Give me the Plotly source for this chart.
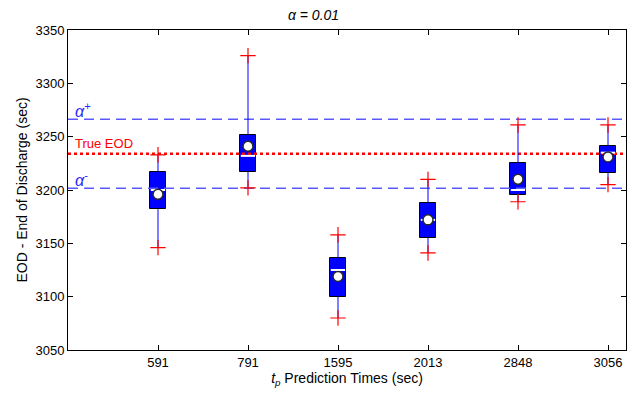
import plotly.graph_objects as go

# ---- data ----
pred_times = ["591", "791", "1595", "2013", "2848", "3056"]
positions = [1, 2, 3, 4, 5, 6]
q_min = [3146, 3202, 3080, 3141, 3189, 3205]
q1 = [3182, 3217, 3100, 3155, 3195, 3216]
median = [3200, 3232, 3125, 3172, 3200, 3235]
q3 = [3217, 3252, 3136, 3188, 3225, 3241]
q_max = [3233, 3326, 3158, 3210, 3261, 3261]
mean = [3196, 3241, 3119, 3172, 3210, 3231]
true_eod = 3234
alpha = 0.01
alpha_plus = true_eod * (1 + alpha)
alpha_minus = true_eod * (1 - alpha)
y_ticks = [3050, 3100, 3150, 3200, 3250, 3300, 3350]

box_w = 0.18
x_lo, x_hi = 0, 6.2
FONT = "Liberation Sans, Arial, sans-serif"

fig = go.Figure()

# reference lines
fig.add_trace(go.Scatter(x=[x_lo, x_hi], y=[alpha_plus] * 2, mode="lines",
                         line=dict(color="rgb(90,90,255)", width=1.5, dash="10px,6px"),
                         hoverinfo="skip", showlegend=False))
fig.add_trace(go.Scatter(x=[x_lo, x_hi], y=[alpha_minus] * 2, mode="lines",
                         line=dict(color="rgb(90,90,255)", width=1.5, dash="10px,6px"),
                         hoverinfo="skip", showlegend=False))
fig.add_trace(go.Scatter(x=[x_lo, x_hi], y=[true_eod] * 2, mode="lines",
                         line=dict(color="rgb(255,0,0)", width=2.5, dash="dot"),
                         hoverinfo="skip", showlegend=False))

# whiskers
wx, wy = [], []
for p, lo, a, b, hi in zip(positions, q_min, q1, q3, q_max):
    wx += [p, p, None, p, p, None]
    wy += [lo, a, None, b, hi, None]
fig.add_trace(go.Scatter(x=wx, y=wy, mode="lines",
                         line=dict(color="rgb(0,0,255)", width=1),
                         hoverinfo="skip", showlegend=False))

# boxes
fig.add_trace(go.Bar(x=positions, base=q1, y=[b - a for a, b in zip(q1, q3)],
                     width=box_w, marker=dict(color="rgb(0,0,255)",
                                              line=dict(color="black", width=1)),
                     showlegend=False))

# medians
mx, my = [], []
for p, m in zip(positions, median):
    mx += [p - box_w / 2 + 0.01, p + box_w / 2 - 0.01, None]
    my += [m, m, None]
fig.add_trace(go.Scatter(x=mx, y=my, mode="lines",
                         line=dict(color="white", width=2),
                         hoverinfo="skip", showlegend=False))

# extremes (red plus)
fig.add_trace(go.Scatter(x=positions + positions, y=q_min + q_max, mode="markers",
                         marker=dict(symbol="cross-thin", size=11,
                                     line=dict(color="rgb(255,0,0)", width=1.2)),
                         showlegend=False))

# means
fig.add_trace(go.Scatter(x=positions, y=mean, mode="markers",
                         marker=dict(symbol="circle", size=10, color="white",
                                     line=dict(color="rgb(40,40,40)", width=1.5)),
                         showlegend=False))

fig.add_annotation(x=0.06, y=alpha_plus, text="<i>α</i><sup>+</sup>", showarrow=False,
                   xanchor="left", yanchor="bottom", yshift=-3,
                   font=dict(family=FONT, size=16, color="rgb(40,40,255)"))
fig.add_annotation(x=0.06, y=true_eod, text="True EOD", showarrow=False,
                   xanchor="left", yanchor="bottom", yshift=1,
                   font=dict(family=FONT, size=13, color="rgb(255,0,0)"))
fig.add_annotation(x=0.06, y=alpha_minus, text="<i>α</i><sup>-</sup>", showarrow=False,
                   xanchor="left", yanchor="bottom", yshift=-3,
                   font=dict(family=FONT, size=16, color="rgb(40,40,255)"))

fig.update_layout(
    width=627, height=400,
    margin=dict(l=68, r=1, t=30, b=50),
    paper_bgcolor="white", plot_bgcolor="white",
    font=dict(family=FONT, size=13, color="black"),
    title=dict(text="<i>α = 0.01</i>", x=0.5, xanchor="center", y=0.975, yanchor="top",
               font=dict(family=FONT, size=14, color="black")),
    bargap=0,
    xaxis=dict(range=[x_lo, x_hi], tickvals=positions, ticktext=pred_times,
               showline=True, linecolor="black", linewidth=1, mirror="ticks",
               ticks="inside", ticklen=5, tickcolor="black", showgrid=False,
               zeroline=False, tickfont=dict(size=13),
               title=dict(text="<i>t<sub>p</sub></i> Prediction Times (sec)",
                          standoff=2, font=dict(size=14))),
    yaxis=dict(range=[3050, 3350], tickvals=y_ticks,
               showline=True, linecolor="black", linewidth=1, mirror="ticks",
               ticks="inside", ticklen=5, tickcolor="black", showgrid=False,
               zeroline=False, tickfont=dict(size=13),
               title=dict(text="EOD - End of Discharge (sec)", standoff=4,
                          font=dict(size=14))),
)

fig.write_html("out.html")
